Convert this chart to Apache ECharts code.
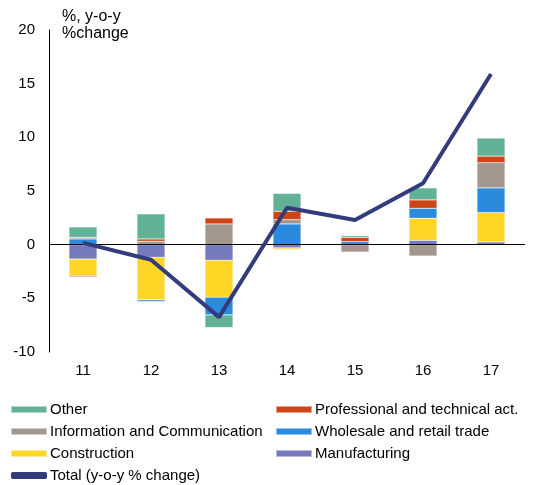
<!DOCTYPE html>
<html>
<head>
<meta charset="utf-8">
<script src="https://cdn.jsdelivr.net/npm/echarts@6/dist/echarts.min.js"></script>
<style>
  html, body { margin: 0; padding: 0; background: #fff; }
  #chart { width: 537px; height: 485px; }
</style>
</head>
<body>
<div id="chart"></div>
<script>
// categories (years)
const categories = ['11', '12', '13', '14', '15', '16', '17'];

// contributions, percentage points
const manufacturing = [-1.34, -1.18, -1.46, -0.3, 0, 0.4, 0.25];
const construction = [-1.53, -3.96, -3.43, -0.15, 0, 2.06, 2.74];
const wholesale = [0.53, -0.16, -1.65, 1.93, 0.28, 0.93, 2.3];
const information = [0.15, 0.31, 1.93, 0.4, -0.69, -1.06, 2.34];
const professional = [-0.12, 0.22, 0.56, 0.78, 0.4, 0.78, 0.62];
const other = [0.97, 2.34, -1.18, 1.67, 0.16, 1.12, 1.68];
const total = [0.17, -1.4, -6.75, 3.44, 2.29, 5.72, 15.9];

const font = 'Liberation Sans, Arial, sans-serif';

const chart = echarts.init(document.getElementById('chart'));

function bar(name, data, color) {
  return {
    name: name,
    type: 'bar',
    stack: 'total',
    data: data,
    barWidth: 28,
    itemStyle: { color: color, borderColor: 'rgba(255,255,255,0.5)', borderWidth: 0.5 },
  };
}

const otherSeries = bar('Other', other, '#60b196');
// zero line over the bars
otherSeries.markLine = {
  silent: true,
  symbol: 'none',
  label: { show: false },
  lineStyle: { color: '#000', width: 1, type: 'solid' },
  data: [{ yAxis: 0 }],
};

const legendText = { fontSize: 15, color: '#000', fontFamily: font, padding: [0, 0, 0, -2] };

const option = {
  animation: false,
  textStyle: { fontFamily: font },
  title: {
    text: '%, y-o-y\n%change',
    left: 57,
    top: 3,
    textStyle: { fontFamily: font, fontSize: 16, fontWeight: 'normal', color: '#000', lineHeight: 17 },
  },
  grid: { left: 49, right: 12, top: 30, bottom: 133 },
  xAxis: {
    type: 'category',
    data: categories,
    axisLine: { show: false },
    axisTick: { show: false },
    axisLabel: { color: '#000', fontSize: 15, margin: 11, fontFamily: font },
  },
  yAxis: {
    type: 'value',
    min: -10,
    max: 20,
    interval: 5,
    axisLine: { show: true, lineStyle: { color: '#000', width: 1 } },
    axisTick: { show: false },
    splitLine: { show: false },
    axisLabel: { color: '#000', fontSize: 15, margin: 14, fontFamily: font },
  },
  legend: [
    {
      left: 5,
      top: 397,
      height: 120,
      orient: 'vertical',
      itemWidth: 36,
      itemHeight: 7,
      itemGap: 7,
      textStyle: legendText,
      data: [
        { name: 'Other', icon: 'rect' },
        { name: 'Information and Communication', icon: 'rect' },
        { name: 'Construction', icon: 'rect' },
        { name: 'Total (y-o-y % change)', icon: 'roundRect' },
      ],
    },
    {
      left: 270,
      top: 397,
      height: 120,
      orient: 'vertical',
      itemWidth: 36,
      itemHeight: 7,
      itemGap: 7,
      textStyle: legendText,
      data: [
        { name: 'Professional and technical act.', icon: 'rect' },
        { name: 'Wholesale and retail trade', icon: 'rect' },
        { name: 'Manufacturing', icon: 'rect' },
      ],
    },
  ],
  series: [
    bar('Manufacturing', manufacturing, '#7579be'),
    bar('Construction', construction, '#ffd625'),
    bar('Wholesale and retail trade', wholesale, '#2a8ade'),
    bar('Information and Communication', information, '#a3968e'),
    bar('Professional and technical act.', professional, '#cd4516'),
    otherSeries,
    {
      name: 'Total (y-o-y % change)',
      type: 'line',
      data: total,
      symbol: 'none',
      z: 5,
      lineStyle: { color: '#333c7b', width: 4 },
      itemStyle: { color: '#333c7b' },
    },
  ],
};

chart.setOption(option);
</script>
</body>
</html>
